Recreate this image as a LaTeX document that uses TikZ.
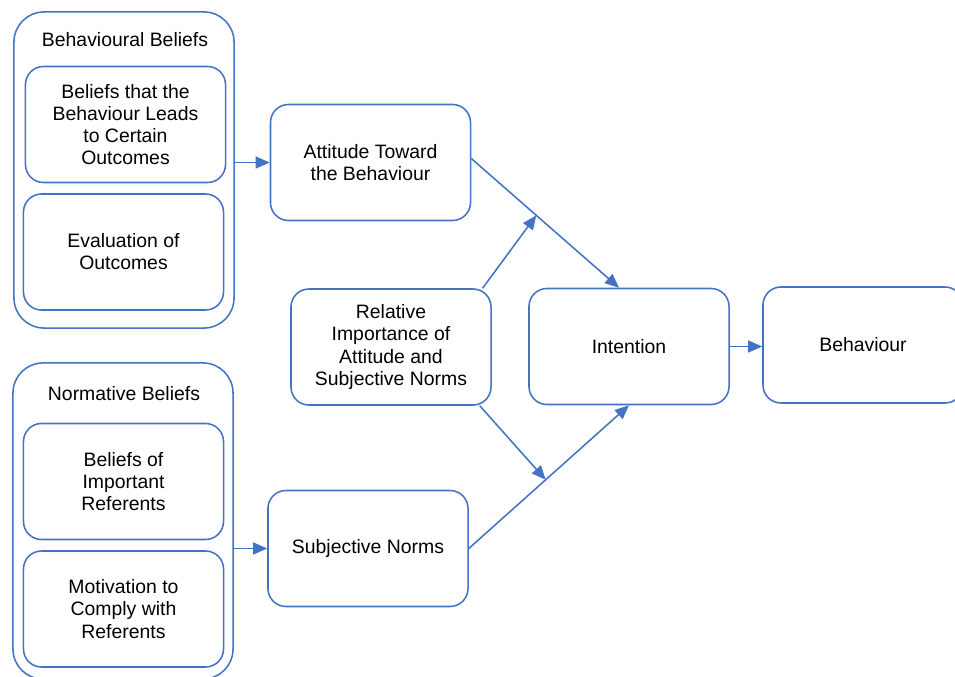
\documentclass[tikz,border=0pt]{standalone}
\usepackage{fontspec}
\setmainfont{Liberation Sans}
\usepackage{tikz}
\usetikzlibrary{arrows.meta, calc}
\definecolor{boxblue}{HTML}{4472C4}

\begin{document}
\begin{tikzpicture}[x=0.025cm, y=-0.025cm, font=\fontsize{13.8}{15.7}\selectfont,
  box/.style={draw=boxblue, line width=1.1pt, rounded corners=0.45cm, minimum width=5cm, minimum height=2.9cm, align=center, inner sep=0pt},
  group/.style={draw=boxblue, line width=1.1pt, rounded corners=0.75cm, minimum width=5.5cm, minimum height=7.9cm},
  arr/.style={draw=boxblue, line width=1.1pt, -{Triangle[length=10pt, width=8.5pt]}}]
\useasboundingbox (0,0) rectangle (955,677);

\node[group] (bb) at (124,170){};
\node (bb_l) at (125,40){Behavioural Beliefs};
\node[box] (bel) at (125.5,124.5){Beliefs that the\\Behaviour Leads\\to Certain\\Outcomes};
\node[box] (eva) at (123.5,252){Evaluation of\\Outcomes};

\node[group] (nb) at (123,521){};
\node (nb_l) at (124,394){Normative Beliefs};
\node[box] (ref) at (123.5,481.5){Beliefs of\\Important\\Referents};
\node[box] (mot) at (123.5,609){Motivation to\\Comply with\\Referents};

\node[box] (att) at (370.5,162.5){Attitude Toward\\the Behaviour};
\node[box] (rel) at (391,347){Relative\\Importance of\\Attitude and\\Subjective Norms};
\node[box] (subj) at (368,548.5){Subjective Norms};
\node[box] (int) at (629,346.5){Intention};
\node[box] (beh) at (863,345){Behaviour};

\draw[arr] (att.west -| bb.east)--(att.west);
\draw[arr] (subj.west -| nb.east)--(subj.west);

\coordinate (att_out) at ([yshift=0.1cm]att.east);
\coordinate (int_in) at ([xshift=-0.25cm]int.north);
\draw[arr] (att_out)--(int_in);
\coordinate (att_mid) at ($(att_out)!0.44!(int_in)$);
\draw[arr] ([xshift=-0.23cm]rel.north east)--(att_mid);

\draw[arr] (subj.east)--(int.south);
\coordinate (subj_mid) at ($(subj.east)!0.48!(int.south)$);
\draw[arr] ([xshift=-0.3cm]rel.south east)--(subj_mid);

\draw[arr] (int.east)--(int.east -| beh.west);
\end{tikzpicture}
\end{document}
